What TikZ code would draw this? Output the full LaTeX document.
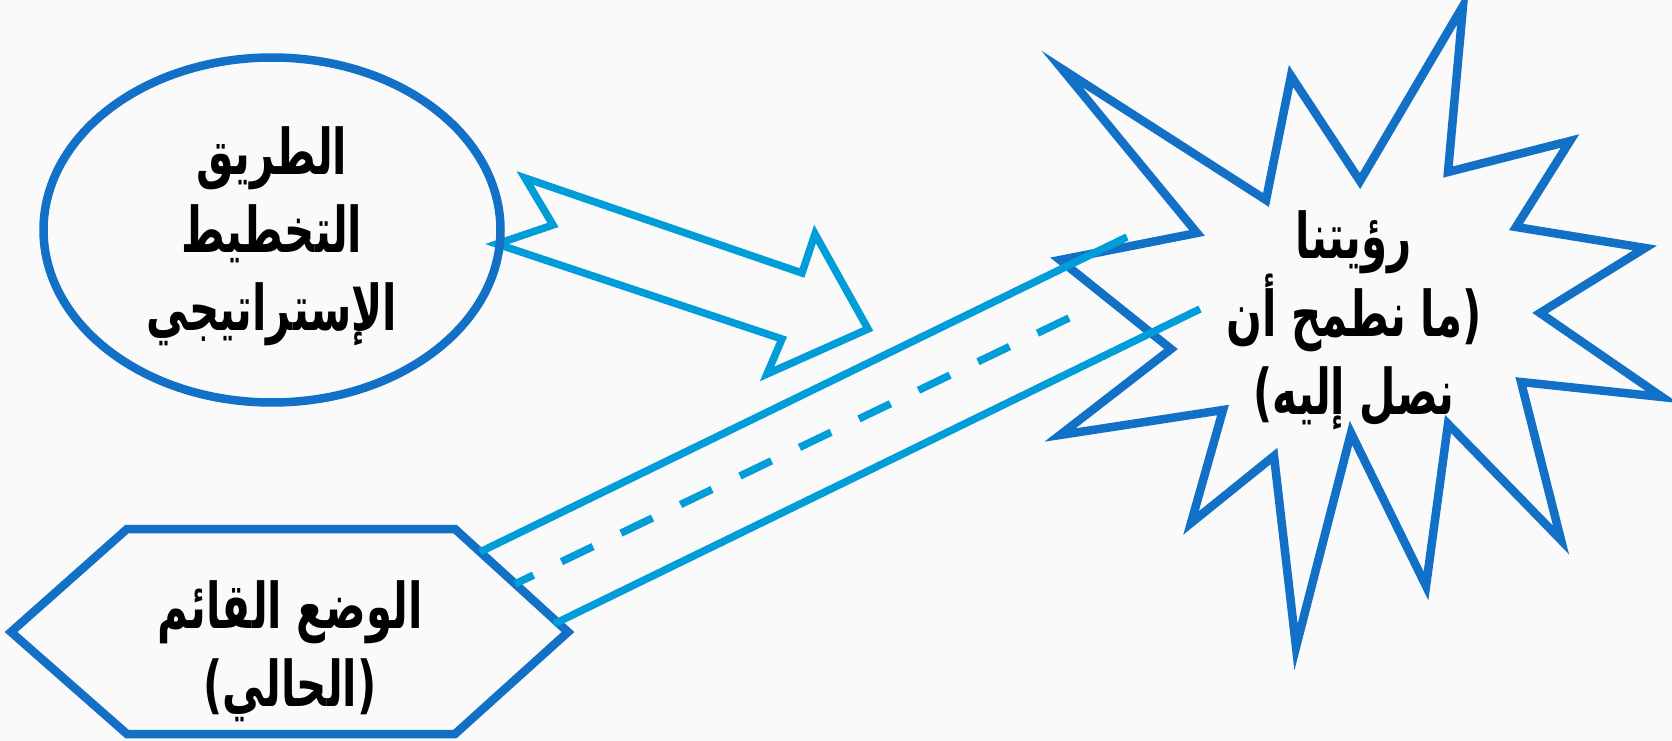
\documentclass[tikz,border=0pt]{standalone}
\usepackage{fontspec}
\usepackage{graphicx}
\newfontfamily\arabicfont[Script=Arabic]{DejaVu Sans}
\TeXXeTstate=1
\usepackage{tikz}
\usetikzlibrary{shapes.geometric}
\definecolor{edge}{HTML}{1270C6}
\definecolor{lane}{HTML}{009DD9}
\definecolor{paper}{HTML}{FAFAFA}
\newcommand{\arline}[1]{\scalebox{1}[1.5]{\beginR #1\endR}}

\begin{document}
\begin{tikzpicture}[x=1pt,y=-1pt,line join=miter,
 sh/.style={draw=edge,line width=8.5pt},
 rd/.style={draw=lane,line width=7.5pt},
 t/.style={align=center,inner sep=0pt,font=\arabicfont\bfseries\fontsize{42}{78}\selectfont}]
\fill[paper] (0,0) rectangle (1672,741);
\useasboundingbox (0,0) rectangle (1672,741);
% block arrow from the plan
\draw[rd] (525,178) -- (802,273) -- (815,234) -- (868,329) -- (767,374)
 -- (782,339) -- (497,244) -- (553,225) -- cycle;
\node[sh,ellipse,minimum width=457pt,minimum height=345pt,inner sep=0pt] (plan) at (272,230) {};
\node[t] (plantxt) at (272,236) {\arline{الطريق}\\\arline{التخطيط}\\\arline{الإستراتيجي}};
% present state
\draw[sh] (11,632) -- (127,529) -- (455,529) -- (568,632) -- (455,734) -- (127,734) -- cycle;
\node[t] (now) at (290,651) {\arline{الوضع القائم}\\\arline{(الحالي)}};
% vision star
\draw[sh] (1463,6) -- (1448,172) -- (1570,141) -- (1516,227) -- (1645,248) -- (1540,313)
 -- (1662,397) -- (1521,382) -- (1561,540) -- (1448,424) -- (1426,586) -- (1351,433)
 -- (1296,647) -- (1274,456) -- (1191,523) -- (1223,410) -- (1060,435) -- (1171,349)
 -- (1060,260) -- (1197,233) -- (1062,69) -- (1266,200) -- (1291,76) -- (1360,181) -- cycle;
\node[t] (vision) at (1354,320) {\arline{رؤيتنا}\\\arline{(ما نطمح أن}\\\arline{نصل إليه)}};
% road
\coordinate (h1) at (480,552); \coordinate (s1) at (1127,237);
\coordinate (h2) at (515,584); \coordinate (s2) at (1069,318);
\coordinate (h3) at (554,624); \coordinate (s3) at (1200,309);
\draw[rd] (h1) -- (s1);
\draw[rd,dash pattern=on 35pt off 31pt] (s2) -- (h2);
\draw[rd] (h3) -- (s3);
\end{tikzpicture}
\end{document}
